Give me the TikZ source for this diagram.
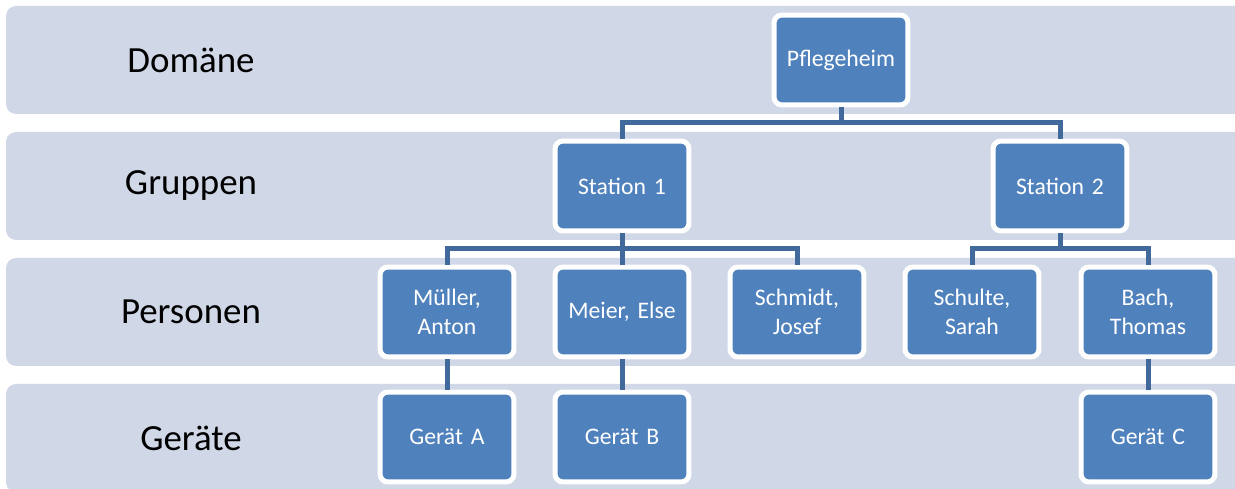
\documentclass[tikz,border=0pt]{standalone}
\usepackage{fontspec}
\setmainfont{Carlito}
\definecolor{bandfill}{HTML}{D0D8E8}
\definecolor{boxfill}{HTML}{4F81BD}
\definecolor{linkblue}{HTML}{41699B}
\tikzset{
  band/.style={fill=bandfill, rounded corners=0.2cm},
  level/.style={font=\fontsize{21}{25}\selectfont},
  unit/.style={draw=white, line width=0.1cm, fill=boxfill, rounded corners=0.16cm,
    minimum width=2.68cm, minimum height=1.8cm, text width=2.5cm, align=center,
    inner sep=0pt, text=white, font=\fontsize{13.5}{16.5}\selectfont},
  link/.style={draw=linkblue, line width=0.1cm}
}
\begin{document}
\begin{tikzpicture}[x=0.02cm, y=-0.02cm]
\useasboundingbox (0,0) rectangle (1235,489);
\clip (0,0) rectangle (1235,489);
\foreach \t/\n/\y in {Domäne/dom/6, Gruppen/grp/132, Personen/pers/258, Geräte/ger/384}{
  \fill[band] (6,\y) rectangle (1260,\y+108);
  \node[level] (\n) at (191,\y+54) {\t};
}
\node[unit] (pfl) at (841,60) {Pflegeheim};
\node[unit] (st1) at (622,186) {Station 1};
\node[unit] (st2) at (1060,186) {Station 2};
\node[unit] (mue) at (447,312) {Müller,\\Anton};
\node[unit] (mei) at (622,312) {Meier, Else};
\node[unit] (sch) at (797,312) {Schmidt,\\Josef};
\node[unit] (shu) at (972,312) {Schulte,\\Sarah};
\node[unit] (bach) at (1148,312) {Bach,\\Thomas};
\node[unit] (gA) at (447,437) {Gerät A};
\node[unit] (gB) at (622,437) {Gerät B};
\node[unit] (gC) at (1148,437) {Gerät C};
\draw[link] (pfl.south) -- ++(0,15.5) coordinate (b1);
\draw[link] (st1.north) |- (b1) -| (st2.north);
\draw[link] (st1.south) -- ++(0,15.5) coordinate (b2);
\draw[link] (mue.north) |- (b2) -| (sch.north);
\draw[link] (b2) -- (mei.north);
\draw[link] (st2.south) -- ++(0,15.5) coordinate (b3);
\draw[link] (shu.north) |- (b3) -| (bach.north);
\draw[link] (mue) -- (gA);
\draw[link] (mei) -- (gB);
\draw[link] (bach) -- (gC);
\end{tikzpicture}
\end{document}
